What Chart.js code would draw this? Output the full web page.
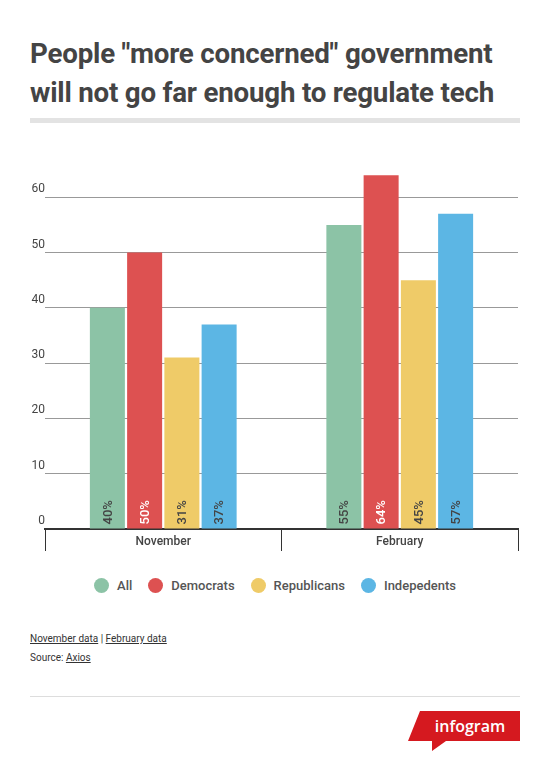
<!DOCTYPE html><html><head><meta charset="utf-8">
<script src="https://cdn.jsdelivr.net/npm/chart.js@4"></script>
<style>
body{margin:0;width:550px;height:770px;background:#fff;font-family:Roboto,sans-serif;position:relative;overflow:hidden}
h1{position:absolute;left:30px;top:34px;margin:0;font-size:27.7px;line-height:39px;font-weight:700;color:#444;width:490px;letter-spacing:-0.2px}
.bar{position:absolute;left:30px;top:118px;width:490px;height:5px;background:#e3e3e3}
#wrap{position:absolute;left:0;top:130px;width:550px;height:430px}
.legend{position:absolute;top:578px;left:0;width:550px;text-align:center;font-size:13px;font-weight:500;color:#555}
.legend span{display:inline-block;margin:0 8px}
.legend i{display:inline-block;width:15px;height:15px;border-radius:50%;vertical-align:-3px;margin-right:8px}
.foot{position:absolute;left:30px;font-size:10px;color:#333}
.foot u{color:#333}
.hr{position:absolute;left:30px;top:696px;width:490px;height:1px;background:#ddd}
</style></head><body>
<h1>People "more concerned" government will not go far enough to regulate tech</h1>
<div class="bar"></div>
<div id="wrap"><canvas id="c"></canvas></div>
<div class="legend" id="lg"></div>
<div class="foot" style="top:633px"><u>November data</u> | <u>February data</u></div>
<div class="foot" style="top:652px">Source: <u>Axios</u></div>
<div class="hr"></div>
<svg style="position:absolute;left:408px;top:711px" width="115" height="42"><polygon points="12,0 112,0 112,30 38,30 24,40 24,30 0,30" fill="#d5191f"/><text x="62" y="21" text-anchor="middle" fill="#fff" font-family="Open Sans, sans-serif" font-size="16" font-weight="600">infogram</text></svg>
<script>
const categories=["November","February"];
const seriesNames=["All","Democrats","Republicans","Indepedents"];
const allVals=[40,55];
const demVals=[50,64];
const repVals=[31,45];
const indVals=[37,57];
const colors=["#8cc3a6","#dd5151","#efcb68","#5cb6e4"];
const labelColors=["#444","#fff","#444","#444"];
const yTicks=[0,10,20,30,40,50,60];
const vals=[allVals,demVals,repVals,indVals];
document.getElementById('lg').innerHTML=seriesNames.map((n,i)=>`<span><i style="background:${colors[i]}"></i>${n}</span>`).join('');
const lbl={id:'lbl',afterDatasetsDraw(ch){const c=ch.ctx;ch.data.datasets.forEach((d,i)=>{ch.getDatasetMeta(i).data.forEach((b,j)=>{c.save();c.translate(b.x,b.base-4);c.rotate(-Math.PI/2);c.font='500 13px Roboto';c.fillStyle=labelColors[i];c.textBaseline='middle';c.textAlign='left';c.fillText(d.data[j]+'%',0,1);c.restore();});});}};
new Chart(document.getElementById('c'),{type:'bar',
data:{labels:categories,datasets:seriesNames.map((n,i)=>({label:n,data:vals[i],backgroundColor:colors[i]}))},
plugins:[lbl],
options:{responsive:true,maintainAspectRatio:false,animation:false,
layout:{padding:{top:12,right:32,left:0,bottom:0}},
plugins:{legend:{display:false},tooltip:{enabled:false}},
datasets:{bar:{categoryPercentage:0.63,barPercentage:0.94}},
scales:{
x:{afterFit(s){s.height=31},border:{color:'#333',width:2},grid:{offset:true,drawOnChartArea:false,tickLength:22,color:'#333',lineWidth:1},ticks:{color:'#444',font:{family:'Roboto',size:12,weight:'500'},padding:-16}},
y:{min:0,max:70,afterFit(s){s.width=45},afterBuildTicks(s){s.ticks=yTicks.concat([70]).map(v=>({value:v}))},border:{display:false},
grid:{drawTicks:false,color:c=>c.tick&&c.tick.value===70?'rgba(0,0,0,0)':'#999'},
ticks:{callback:v=>v===70?'':v,labelOffset:-8,crossAlign:'near',padding:0,color:'#444',font:{family:'Roboto',size:12}}}
}}});
</script></body></html>
